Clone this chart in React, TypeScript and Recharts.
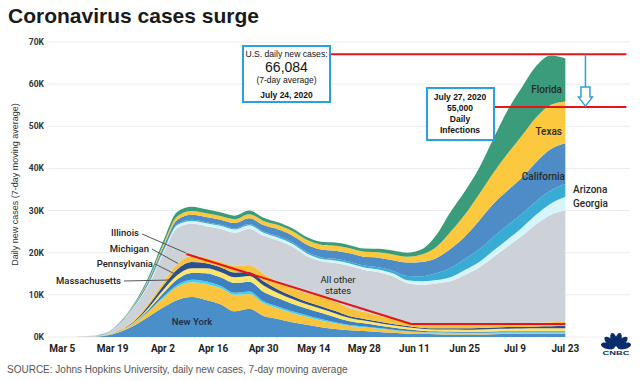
import React from "react";
import {
  Area,
  AreaChart,
  CartesianGrid,
  ReferenceDot,
  ReferenceLine,
  XAxis,
  YAxis,
} from "recharts";

// 7-day average of daily new cases, in thousands
const dates = [
  "2020-03-09", "2020-03-13", "2020-03-17", "2020-03-21", "2020-03-25", "2020-03-29",
  "2020-04-02", "2020-04-06", "2020-04-10", "2020-04-14", "2020-04-18", "2020-04-22",
  "2020-04-26", "2020-04-30", "2020-05-04", "2020-05-08", "2020-05-12", "2020-05-16",
  "2020-05-20", "2020-05-24", "2020-05-28", "2020-06-01", "2020-06-05", "2020-06-09",
  "2020-06-13", "2020-06-17", "2020-06-21", "2020-06-25", "2020-06-29", "2020-07-03",
  "2020-07-07", "2020-07-11", "2020-07-15", "2020-07-19", "2020-07-23",
];

const newYork = [0, 0.02, 0.3, 1.2, 2.7, 4.8, 7.0, 8.8, 9.5, 8.8, 7.8, 6.1, 6.7, 5.0, 4.3, 3.5, 2.9, 2.3, 1.9, 1.6, 1.4, 1.2, 1.0, 0.8, 0.7, 0.65, 0.6, 0.6, 0.6, 0.65, 0.7, 0.7, 0.7, 0.7, 0.7];
const newJersey = [0, 0.01, 0.05, 0.2, 0.5, 1.2, 2.2, 3.1, 3.5, 3.8, 3.8, 3.9, 3.5, 3.0, 2.5, 2.2, 1.9, 1.6, 1.3, 1.0, 0.9, 0.75, 0.6, 0.5, 0.4, 0.35, 0.35, 0.3, 0.3, 0.3, 0.3, 0.3, 0.3, 0.3, 0.3];
const connecticut = [0, 0, 0.01, 0.02, 0.05, 0.15, 0.3, 0.5, 0.6, 0.6, 0.55, 0.5, 0.6, 0.5, 0.45, 0.4, 0.35, 0.35, 0.3, 0.25, 0.2, 0.18, 0.15, 0.12, 0.1, 0.1, 0.1, 0.1, 0.1, 0.1, 0.1, 0.1, 0.1, 0.1, 0.1];
const massachusetts = [0, 0, 0.03, 0.05, 0.15, 0.4, 0.8, 1.3, 1.6, 1.9, 2.0, 2.3, 2.3, 2.2, 2.0, 1.8, 1.6, 1.5, 1.2, 0.9, 0.75, 0.6, 0.5, 0.4, 0.3, 0.25, 0.25, 0.25, 0.25, 0.25, 0.25, 0.25, 0.25, 0.25, 0.25];
const pennsylvania = [0, 0, 0.01, 0.05, 0.15, 0.4, 0.8, 1.0, 1.1, 1.2, 1.3, 1.4, 1.4, 1.5, 1.2, 1.1, 1.0, 0.95, 0.9, 0.75, 0.65, 0.6, 0.55, 0.5, 0.45, 0.45, 0.5, 0.5, 0.55, 0.6, 0.6, 0.65, 0.7, 0.7, 0.75];
const michigan = [0, 0, 0.01, 0.06, 0.2, 0.6, 1.0, 1.4, 1.5, 1.2, 1.1, 1.1, 0.9, 1.0, 0.8, 0.7, 0.6, 0.6, 0.55, 0.45, 0.4, 0.35, 0.3, 0.3, 0.25, 0.25, 0.3, 0.3, 0.35, 0.35, 0.4, 0.4, 0.45, 0.5, 0.5];
const illinois = [0, 0, 0.02, 0.08, 0.2, 0.5, 0.8, 1.2, 1.5, 1.3, 1.3, 1.6, 1.7, 1.8, 1.85, 1.9, 2.05, 2.4, 2.2, 1.9, 1.7, 1.4, 1.3, 0.95, 0.85, 0.8, 0.85, 0.85, 0.85, 0.85, 0.85, 0.9, 0.9, 0.95, 0.95];
const allOther = [0.1, 0.24, 0.33, 1.5, 3.17, 4.27, 6.7, 8.55, 7.55, 7.5, 7.85, 7.85, 8.6, 9.0, 9.8, 9.85, 8.85, 8.3, 9.2, 10.0, 9.9, 10.3, 10.0, 9.2, 9.35, 9.85, 10.25, 11.8, 13.5, 15.9, 18.3, 20.7, 23.4, 25.5, 26.55];
const georgia = [0, 0, 0.02, 0.06, 0.15, 0.35, 0.55, 0.7, 0.7, 0.7, 0.7, 0.75, 0.8, 0.75, 0.7, 0.65, 0.6, 0.55, 0.6, 0.6, 0.6, 0.65, 0.7, 0.7, 0.8, 0.8, 1.0, 1.2, 1.3, 1.5, 1.7, 2.0, 2.3, 2.7, 3.2];
const arizona = [0, 0, 0.01, 0.01, 0.03, 0.08, 0.15, 0.2, 0.25, 0.25, 0.25, 0.25, 0.3, 0.3, 0.35, 0.4, 0.4, 0.4, 0.4, 0.4, 0.45, 0.5, 0.6, 1.0, 1.2, 1.6, 2.2, 2.6, 3.0, 3.3, 3.4, 3.3, 3.2, 3.1, 3.0];
const california = [0, 0.02, 0.05, 0.12, 0.3, 0.6, 0.9, 1.1, 1.2, 1.2, 1.2, 1.3, 1.4, 1.5, 1.6, 1.6, 1.7, 1.8, 1.9, 2.0, 2.1, 2.3, 2.5, 3.2, 3.4, 3.6, 4.5, 5.3, 6.8, 7.8, 8.2, 8.6, 9.3, 9.8, 9.7];
const texas = [0, 0, 0.02, 0.05, 0.15, 0.35, 0.55, 0.8, 0.9, 0.9, 0.85, 0.9, 0.95, 1.0, 1.0, 1.05, 1.1, 1.15, 1.2, 1.2, 1.2, 1.3, 1.4, 1.4, 1.8, 2.6, 4.0, 5.2, 6.3, 7.4, 8.8, 10.0, 10.6, 10.5, 9.9];
const florida = [0, 0.01, 0.04, 0.1, 0.25, 0.6, 0.85, 1.05, 1.0, 0.95, 0.9, 0.85, 0.85, 0.75, 0.65, 0.65, 0.65, 0.7, 0.75, 0.75, 0.75, 0.8, 0.9, 0.9, 1.2, 2.8, 4.7, 5.5, 6.2, 8.1, 10.3, 11.5, 12.2, 11.7, 10.2];

const tickDates = [
  "2020-03-05", "2020-03-19", "2020-04-02", "2020-04-16", "2020-04-30", "2020-05-14",
  "2020-05-28", "2020-06-11", "2020-06-25", "2020-07-09", "2020-07-23",
];
const yTicks = [0, 10, 20, 30, 40, 50, 60, 70];

// annotation levels (thousands)
const peakLineK = 67.1;
const julyLineK = 54.6;
const northeastLine = [
  { x: 38.5, y: 19.7 },
  { x: 101.1, y: 3.1 },
  { x: 144, y: 3.1 },
];

const START = Date.UTC(2020, 2, 1);
const dayOf = (iso: string) => Math.round((Date.parse(iso) - START) / 86400000);
const MONTHS = ["Jan", "Feb", "Mar", "Apr", "May", "Jun", "Jul", "Aug"];
const fmtDay = (d: number) => {
  const dt = new Date(START + d * 86400000);
  return `${MONTHS[dt.getUTCMonth()]} ${dt.getUTCDate()}`;
};

const layers = [
  { key: "newYork", values: newYork, color: "#4a8fc7" },
  { key: "newJersey", values: newJersey, color: "#fbc43f" },
  { key: "connecticut", values: connecticut, color: "#3dd2f3" },
  { key: "massachusetts", values: massachusetts, color: "#3f80c0" },
  { key: "pennsylvania", values: pennsylvania, color: "#fde66b" },
  { key: "michigan", values: michigan, color: "#2c4f8e" },
  { key: "illinois", values: illinois, color: "#f7c23e" },
  { key: "allOther", values: allOther, color: "#cdd2d8" },
  { key: "georgia", values: georgia, color: "#d6f5fb" },
  { key: "arizona", values: arizona, color: "#39acd6" },
  { key: "california", values: california, color: "#4d8cc6" },
  { key: "texas", values: texas, color: "#fcc83e" },
  { key: "florida", values: florida, color: "#3a9c7a" },
];

const data = dates.map((iso, i) => {
  const row: Record<string, number> = { day: dayOf(iso) };
  layers.forEach((l) => {
    row[l.key] = l.values[i];
  });
  return row;
});

const BLUE = "#27a2dd";
const RED = "#e5141b";
const SANS = "'Liberation Sans', Arial, sans-serif";
const LABEL_FONT = "Roboto, 'Liberation Sans', sans-serif";

const ArrowHead = (p: any) => {
  const { cx, cy } = p;
  return (
    <path
      d={`M${cx - 4.5},${cy} h9 v10 h2.5 L${cx},${cy + 19} L${cx - 7},${cy + 10} h2.5 Z`}
      fill="#fff"
      stroke={BLUE}
      strokeWidth={1.5}
    />
  );
};

function Overlay() {
  const callout = { fontFamily: LABEL_FONT, fontSize: 9.5, fontWeight: 500, fill: "#222" };
  return (
    <svg
      width={640}
      height={381}
      style={{ position: "absolute", left: 0, top: 0, pointerEvents: "none" }}
    >
      <text x={8} y={23} fontFamily={SANS} fontSize={21} fontWeight={700} fill="#1a1a1a">
        Coronavirus cases surge
      </text>
      <text
        transform="translate(15,184.5) rotate(-90)"
        textAnchor="middle"
        dominantBaseline="central"
        fontFamily={SANS}
        fontSize={9}
        fill="#333"
      >
        Daily new cases (7-day moving average)
      </text>
      <text x={7} y={372.5} fontFamily={SANS} fontSize={10} fill="#555">
        SOURCE: Johns Hopkins University, daily new cases, 7-day moving average
      </text>

      {/* boxes */}
      <rect x={243} y={46} width={87} height={56} fill="#fff" stroke={BLUE} strokeWidth={2} />
      <g fontFamily={SANS} textAnchor="middle" dominantBaseline="central" fill="#111">
        <text x={286.5} y={53.5} fontSize={8.6}>U.S. daily new cases:</text>
        <text x={286.5} y={67} fontSize={14}>66,084</text>
        <text x={286.5} y={80} fontSize={8.5}>(7-day average)</text>
        <text x={286.5} y={95} fontSize={8.5} fontWeight={700}>July 24, 2020</text>
      </g>
      <rect x={427} y={88} width={67} height={52} fill="#fff" stroke={BLUE} strokeWidth={2} />
      <g fontFamily={SANS} textAnchor="middle" dominantBaseline="central" fontSize={8.5} fontWeight={700} fill="#111">
        <text x={460} y={97}>July 27, 2020</text>
        <text x={460} y={108.3}>55,000</text>
        <text x={460} y={119.3}>Daily</text>
        <text x={460} y={130.3}>Infections</text>
      </g>

      {/* leader lines */}
      <g stroke="#555" strokeWidth={1}>
        <line x1={142} y1={234} x2={186} y2={253} />
        <line x1={152} y1={249} x2={178} y2={263.5} />
        <line x1={155} y1={264} x2={177} y2={275} />
        <line x1={124} y1={281} x2={171} y2={280} />
      </g>
      <g {...callout} textAnchor="end" dominantBaseline="central">
        <text x={139} y={232}>Illinois</text>
        <text x={149} y={248}>Michigan</text>
        <text x={153} y={263}>Pennsylvania</text>
        <text x={121} y={280}>Massachusetts</text>
      </g>
      <text x={192} y={321} {...callout} fill="#1d2c47" textAnchor="middle" dominantBaseline="central">
        New York
      </text>
      <g fontFamily={LABEL_FONT} fontSize={9.5} fill="#222" textAnchor="middle" dominantBaseline="central">
        <text x={338} y={279}>All other</text>
        <text x={338} y={290.5}>states</text>
      </g>
      <g {...callout} fontSize={10} fill="#2a2a2a" textAnchor="end" dominantBaseline="central">
        <text x={562} y={89}>Florida</text>
        <text x={562} y={131}>Texas</text>
        <text x={565} y={176}>California</text>
      </g>
      <g {...callout} fontSize={10} fill="#2a2a2a" dominantBaseline="central">
        <text x={573} y={189}>Arizona</text>
        <text x={573} y={203}>Georgia</text>
      </g>

      {/* CNBC mark */}
      <g transform="translate(616,348)" fill="#0b2d6b">
        {[-76, -46, -15, 15, 46, 76].map((a) => (
          <ellipse key={a} cx={0} cy={-8.5} rx={3.2} ry={7} transform={`rotate(${a})`} />
        ))}
      </g>
      <text
        x={602.5}
        y={355}
        fontFamily={SANS}
        fontSize={6}
        fontWeight={700}
        fill="#0b2d6b"
        textLength={27}
        lengthAdjust="spacingAndGlyphs"
      >
        CNBC
      </text>
    </svg>
  );
}

export default function App() {
  return (
    <div style={{ position: "absolute", left: 0, top: 0, width: 640, height: 381, background: "#fff" }}>
      <AreaChart width={640} height={381} data={data} margin={{ top: 42, right: 10, left: 0, bottom: 24 }}>
        <CartesianGrid vertical={false} stroke="#ececec" />
        <XAxis
          dataKey="day"
          type="number"
          domain={[0, 162]}
          ticks={tickDates.map(dayOf)}
          tickFormatter={fmtDay}
          tickLine={false}
          axisLine={false}
          height={20}
          tick={{ fontSize: 10, fontWeight: 700, fill: "#1e1e1e", fontFamily: LABEL_FONT }}
        />
        <YAxis
          domain={[0, 70]}
          ticks={yTicks}
          tickFormatter={(v: number) => `${v}K`}
          tickLine={false}
          axisLine={false}
          tickSize={0}
          tickMargin={4}
          width={48}
          tick={{ fontSize: 8.5, fontWeight: 700, fill: "#333", fontFamily: LABEL_FONT }}
        />
        {layers.map((l) => (
          <Area
            key={l.key}
            type="monotone"
            dataKey={l.key}
            stackId="1"
            stroke="none"
            fill={l.color}
            fillOpacity={1}
            isAnimationActive={false}
          />
        ))}
        <ReferenceLine segment={[northeastLine[0], northeastLine[1]]} stroke={RED} strokeWidth={2} />
        <ReferenceLine segment={[northeastLine[1], northeastLine[2]]} stroke={RED} strokeWidth={2} />
        <ReferenceLine segment={[{ x: 78.3, y: peakLineK }, { x: 161, y: peakLineK }]} stroke={RED} strokeWidth={2} />
        <ReferenceLine segment={[{ x: 124, y: julyLineK }, { x: 161, y: julyLineK }]} stroke={RED} strokeWidth={2} />
        <ReferenceLine segment={[{ x: 149.6, y: peakLineK }, { x: 149.6, y: 59.3 }]} stroke={BLUE} strokeWidth={1.5} />
        <ReferenceDot x={149.6} y={59.3} r={0} shape={ArrowHead} />
      </AreaChart>
      <Overlay />
    </div>
  );
}
